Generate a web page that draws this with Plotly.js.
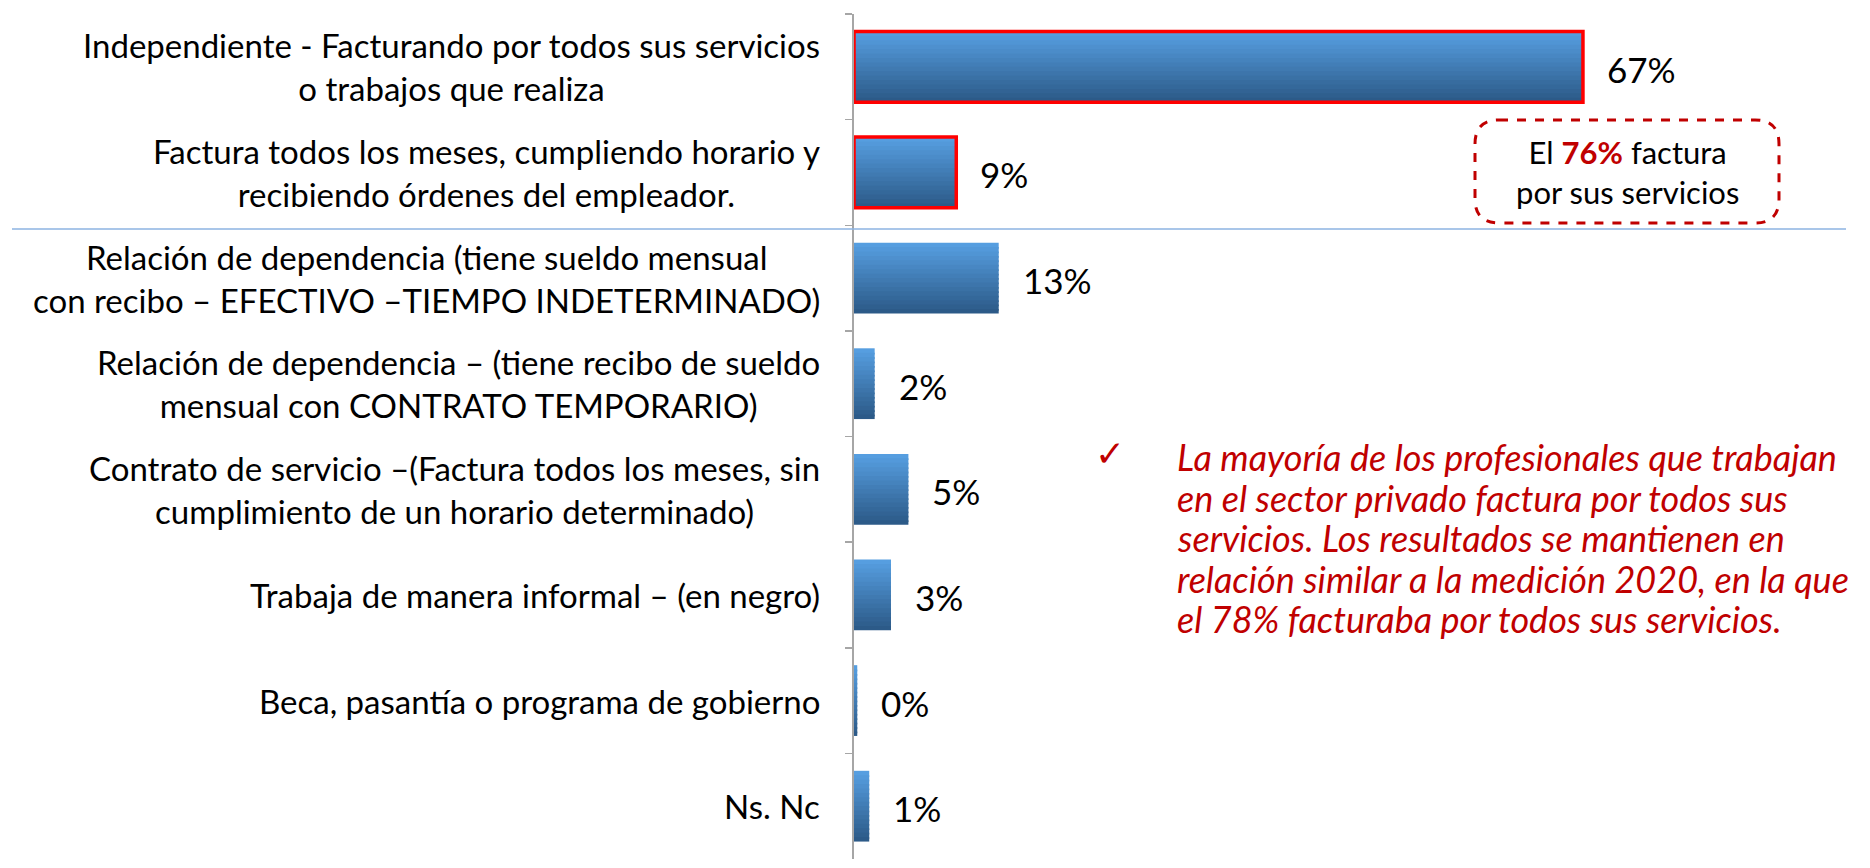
<!DOCTYPE html>
<html>
<head>
<meta charset="utf-8">
<script src="https://cdn.plot.ly/plotly-3.0.1.min.js"></script>
<style>html,body{margin:0;padding:0;background:#fff;}#chart{width:1870px;height:868px;}</style>
</head>
<body>
<div id="chart"></div>
<script>
// ---- data ----
const categories = [
  "Independiente - Facturando por todos sus servicios<br>o trabajos que realiza",
  "Factura todos los meses, cumpliendo horario y<br>recibiendo órdenes del empleador.",
  "Relación de dependencia (tiene sueldo mensual<br>con recibo – EFECTIVO –TIEMPO INDETERMINADO)",
  "Relación de dependencia – (tiene recibo de sueldo<br>mensual con CONTRATO TEMPORARIO)",
  "Contrato de servicio –(Factura todos los meses, sin<br>cumplimiento de un horario determinado)",
  "Trabaja de manera informal – (en negro)",
  "Beca, pasantía o programa de gobierno",
  "Ns. Nc"
];
const values = [67, 9.4, 13.3, 1.9, 5, 3.4, 0.3, 1.4];
const highlighted = [true, true, false, false, false, false, false, false];
const boxLines = ["El <b><span style=\"color:#C00000\">76%</span></b> factura", "por sus servicios"];
const noteLines = [
  "La mayoría de los profesionales que trabajan",
  "en el sector privado factura por todos sus",
  "servicios. Los resultados se mantienen en",
  "relación similar a la medición 2020, en la que",
  "el 78% facturaba por todos sus servicios."
];

// ---- layout helpers ----
const W = 1870, H = 868;
const M = {l: 854, r: 16, t: 14, b: 9};
const PW = W - M.l - M.r, PH = H - M.t - M.b;
const px = x => (x - M.l) / PW;
const py = y => 1 - (y - M.t) / PH;
const FONT = "Lato, 'Open Sans', sans-serif";

const ids = categories.map((c, i) => "c" + i);
const bw = 0.67;
const N = 16;
const colTop = [86, 158, 224], colBot = [44, 90, 136];
const traces = [];
for (let i = 0; i < N; i++) {
  const t = i / (N - 1);
  const c = colTop.map((a, k) => Math.round(a + (colBot[k] - a) * t));
  const w = bw / N;
  traces.push({
    type: "bar", orientation: "h",
    x: values, y: ids,
    width: i < N - 1 ? w * 1.4 : w,
    offset: -bw / 2 + i * w,
    marker: {color: "rgb(" + c.join(",") + ")", line: {width: 0}},
    hoverinfo: "skip", showlegend: false
  });
}
traces.push({
  type: "bar", orientation: "h",
  x: values, y: ids, width: bw, offset: -bw / 2,
  marker: {color: "rgba(0,0,0,0)",
    line: {color: highlighted.map(h => h ? "#FF0000" : "rgba(0,0,0,0)"),
           width: highlighted.map(h => h ? 3.5 : 0)}},
  hoverinfo: "skip", showlegend: false
});

const annotations = [];
categories.forEach((c, i) => {
  annotations.push({
    xref: "paper", yref: "y", x: px(822), y: ids[i],
    xanchor: "right", yanchor: "middle", align: "center",
    text: c, showarrow: false,
    font: {family: FONT, size: 33, color: "#000"}
  });
  annotations.push({
    xref: "x", yref: "y", x: values[i], y: ids[i],
    xanchor: "left", yanchor: "middle", xshift: 22, yshift: -2,
    text: Math.round(values[i]) + "%", showarrow: false,
    font: {family: FONT, size: 35, color: "#000"}
  });
});
// box text
annotations.push({
  xref: "paper", yref: "paper", x: px(1627), y: py(172),
  xanchor: "center", yanchor: "middle", align: "center",
  text: boxLines.join("<br>"), showarrow: false,
  font: {family: FONT, size: 31, color: "#000"}
});
// check mark
annotations.push({
  xref: "paper", yref: "paper", x: px(1110), y: py(453),
  xanchor: "center", yanchor: "middle", text: "✓", showarrow: false,
  font: {family: "DejaVu Sans", size: 36, color: "#C00000"}
});
noteLines.forEach((l, i) => {
  annotations.push({
    xref: "paper", yref: "paper", x: px(1175), y: py(457 + i * 40.5),
    xanchor: "left", yanchor: "middle", align: "left",
    text: "<i>" + l + "</i>", showarrow: false,
    font: {family: FONT, size: 36, color: "#C00000"}
  });
});

// rounded dashed box
function roundRect(x1, y1, x2, y2, r) {
  const P = (x, y) => px(x) + "," + py(y);
  return "M" + P(x1 + r, y1) + " L" + P(x2 - r, y1) + " Q" + P(x2, y1) + " " + P(x2, y1 + r) +
    " L" + P(x2, y2 - r) + " Q" + P(x2, y2) + " " + P(x2 - r, y2) +
    " L" + P(x1 + r, y2) + " Q" + P(x1, y2) + " " + P(x1, y2 - r) +
    " L" + P(x1, y1 + r) + " Q" + P(x1, y1) + " " + P(x1 + r, y1) + " Z";
}
const shapes = [
  {type: "line", xref: "paper", yref: "paper", x0: px(12), x1: px(1846), y0: py(229), y1: py(229),
   line: {color: "#8DB3E2", width: 1.5}},
  {type: "path", xref: "paper", yref: "paper", path: roundRect(1475, 120, 1779, 223, 24),
   line: {color: "#C00000", width: 3, dash: "dash"}}
];

const layout = {
  width: W, height: H,
  margin: M,
  paper_bgcolor: "#fff", plot_bgcolor: "rgba(0,0,0,0)",
  barmode: "overlay",
  xaxis: {range: [0, PW / 10.88], visible: false, fixedrange: true},
  yaxis: {type: "category", categoryorder: "array", categoryarray: ids,
    range: [7.5, -0.5], showticklabels: false, tickson: "boundaries",
    ticks: "outside", ticklen: 7, tickcolor: "#A6A6A6", tickwidth: 1.5,
    showline: true, linecolor: "#A6A6A6", linewidth: 2, showgrid: false, zeroline: false},
  annotations: annotations,
  shapes: shapes,
  showlegend: false
};
Plotly.newPlot("chart", traces, layout, {staticPlot: true, displayModeBar: false});
</script>
</body>
</html>
